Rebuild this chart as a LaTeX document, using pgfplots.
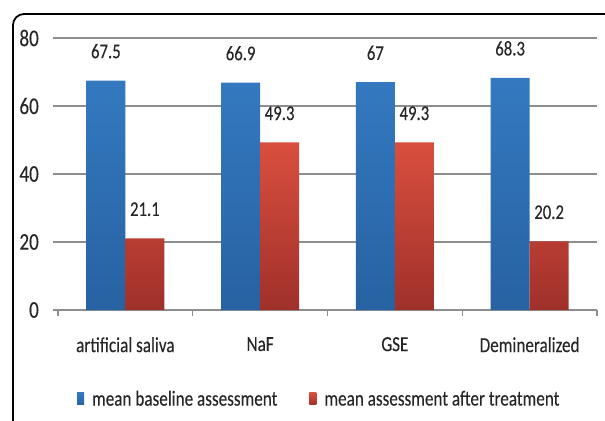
\documentclass[border=0pt]{standalone}
\usepackage{pgfplots}
\pgfplotsset{compat=1.18}
\usepackage{fontspec}
\setmainfont[FakeStretch=0.8]{Carlito}
\newfontfamily\labfont[FakeStretch=0.8, FakeBold=0.15]{Carlito}
\definecolor{bluetop}{HTML}{3479C0}
\definecolor{bluebot}{HTML}{2762A2}
\definecolor{redtop}{HTML}{D94F3E}
\definecolor{redbot}{HTML}{A0302B}
\definecolor{gridc}{HTML}{8E8E8E}
\definecolor{txt}{HTML}{262626}
\begin{document}
\begin{tikzpicture}
\useasboundingbox (0,0) rectangle (605bp,-421bp);
\clip (0,0) rectangle (605bp,-421bp);
\fill[white] (0,0) rectangle (605bp,-421bp);
\draw[black, line width=1.8bp, rounded corners=11bp] (13bp,-14bp) rectangle (650bp,-470bp);
\begin{axis}[
  at={(58bp,-310bp)}, anchor=south west,
  scale only axis, width=539bp, height=272bp,
  xmin=-0.5, xmax=3.5, ymin=0, ymax=80,
  ytick={0,20,...,80},
  xtick={0,1,2,3},
  xticklabels={artificial saliva, NaF, GSE, Demineralized},
  minor xtick={-0.5,0.5,1.5,2.5,3.5},
  axis line style={draw=none},
  ymajorgrids, grid style={gridc, line width=1.3bp},
  tick pos=left, tick align=outside,
  major tick length=5bp, minor tick length=6bp,
  every tick/.style={gridc, line width=1.2bp},
  major x tick style={draw=none},
  /pgf/number format/assume math mode=true,
  yticklabel style={font=\labfont\fontsize{24}{24}\selectfont, text=txt, anchor=east, inner sep=0pt, xshift=-14bp},
  xticklabel style={font=\labfont\fontsize{21.5}{21.5}\selectfont, text=txt, anchor=north, inner sep=0pt, yshift=-22bp},
  ybar=0pt, bar width=39bp,
  nodes near coords,
  every node near coord/.append style={font=\labfont\fontsize{21}{21}\selectfont, anchor=south, inner sep=0pt, yshift=22bp, text=txt},
  legend columns=2,
  legend style={at={(0.035,-0.327)}, anchor=west, draw=none, fill=none, inner sep=0pt,
    font=\labfont\fontsize{21.5}{21.5}\selectfont, text=txt,
    nodes={inner sep=0pt},
    /tikz/every odd column/.append style={column sep=8bp},
    /tikz/every even column/.append style={column sep=32bp}},
  legend image code/.code={\path[#1, draw=none] (0bp,-6bp) rectangle (7bp,6bp);},
]
\addplot[draw=none, top color=bluetop, bottom color=bluebot] coordinates {(0,67.5) (1,66.9) (2,67) (3,68.3)};
\addplot[draw=none, top color=redtop, bottom color=redbot] coordinates {(0,21.1) (1,49.3) (2,49.3) (3,20.2)};
\legend{mean baseline assessment, mean assessment after treatment}
\end{axis}
\end{tikzpicture}
\end{document}
